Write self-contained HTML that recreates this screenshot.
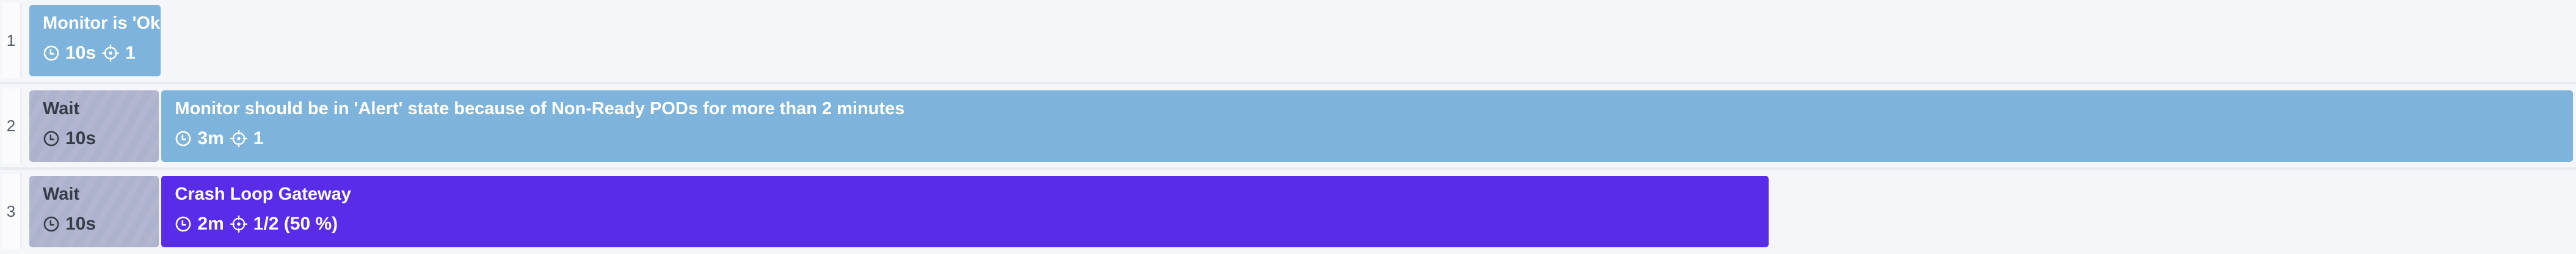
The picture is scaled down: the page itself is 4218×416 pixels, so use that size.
<!DOCTYPE html>
<html>
<head>
<meta charset="utf-8">
<style>
  html,body{margin:0;padding:0;}
  body{width:4218px;height:416px;background:#f5f6fa;position:relative;overflow:hidden;font-family:"Liberation Sans",sans-serif;}
  .num{position:absolute;left:3px;width:30px;background:#fbfbfd;border-right:3px solid #eceef3;color:#555b66;font-size:26px;display:flex;align-items:center;justify-content:center;}
  .sep{position:absolute;left:0;width:4218px;height:4px;background:#eaebf1;}
  .box{position:absolute;border-radius:5px;overflow:hidden;box-sizing:border-box;white-space:nowrap;}
  .title{position:absolute;left:22px;top:14px;font-size:29px;font-weight:bold;}
  .meta{position:absolute;left:22px;top:62px;font-size:30px;font-weight:bold;display:flex;align-items:center;gap:9px;}
  .wait{background-color:#adb3cc;background-image:repeating-linear-gradient(120deg,rgba(255,255,255,0.06) 0 10px,rgba(255,255,255,0) 10px 22px);color:#363c48;}
  .blue{background:#7eb4db;color:#fff;}
  .purple{background:#582ce9;color:#fff;}
  svg{display:block;}
</style>
</head>
<body>
<div class="sep" style="top:134px"></div>
<div class="sep" style="top:274px"></div>
<div id="chart"></div>
<script>
const rowLabels = ["1","2","3"];
const waitSeconds = [0, 10, 10];
const stepSeconds = [10, 180, 120];
const stepTitles = ["Monitor is 'Ok' state", "Monitor should be in 'Alert' state because of Non-Ready PODs for more than 2 minutes", "Crash Loop Gateway"];
const stepDurLabels = ["10s", "3m", "2m"];
const stepTargets = ["1", "1", "1/2 (50 %)"];
const stepColors = ["blue", "blue", "purple"];
const waitLabels = ["", "10s", "10s"];

const domainMax = 190, x0 = 48, x1 = 4217;
function xScale(t){ return x0 + t*(x1-x0)/domainMax; }
const rowTops = [8, 148, 288], rowH = 117, gap = 4;

function clockSvg(c){return '<svg width="28" height="28" viewBox="0 0 24 24"><circle cx="12" cy="12" r="9.5" fill="none" stroke="'+c+'" stroke-width="2.2"/><path d="M11 6.5V13H16" fill="none" stroke="'+c+'" stroke-width="2.2"/></svg>';}
function targetSvg(c){return '<svg width="30" height="30" viewBox="0 0 26 26"><circle cx="13" cy="13" r="8" fill="none" stroke="'+c+'" stroke-width="2"/><circle cx="13" cy="13" r="2.4" fill="'+c+'"/><path d="M13 1v6M13 19v6M1 13h6M19 13h6" stroke="'+c+'" stroke-width="2"/></svg>';}

const chart = document.getElementById('chart');
rowLabels.forEach((lab,i)=>{
  const top = rowTops[i];
  const num = document.createElement('div');
  num.className='num';
  num.style.top=(top-3)+'px'; num.style.height=(rowH+6)+'px';
  num.textContent=lab;
  
  
  chart.appendChild(num);
  let t = 0;
  if (waitSeconds[i] > 0){
    const w = document.createElement('div');
    w.className='box wait';
    const xa = xScale(t), xb = xScale(t+waitSeconds[i]);
    w.style.left=xa+'px'; w.style.width=(xb-xa-gap-3)+'px';
    w.style.top=top+'px'; w.style.height=rowH+'px';
    w.innerHTML='<div class="title">Wait</div><div class="meta">'+clockSvg('#363c48')+'<span>'+waitLabels[i]+'</span></div>';
    
    
    chart.appendChild(w);
    t += waitSeconds[i];
  }
  const b = document.createElement('div');
  b.className='box '+stepColors[i];
  const xa = xScale(t) - (t>0?3:0), xb = Math.min(xScale(t+stepSeconds[i]), x1);
  b.style.left=xa+'px'; b.style.width=(xb-xa-gap)+'px';
  b.style.top=top+'px'; b.style.height=rowH+'px';
  b.innerHTML='<div class="title">'+stepTitles[i]+'</div><div class="meta">'+clockSvg('#fff')+'<span>'+stepDurLabels[i]+'</span>'+targetSvg('#fff')+'<span>'+stepTargets[i]+'</span></div>';
  
  
  chart.appendChild(b);
});
</script>
</body>
</html>
